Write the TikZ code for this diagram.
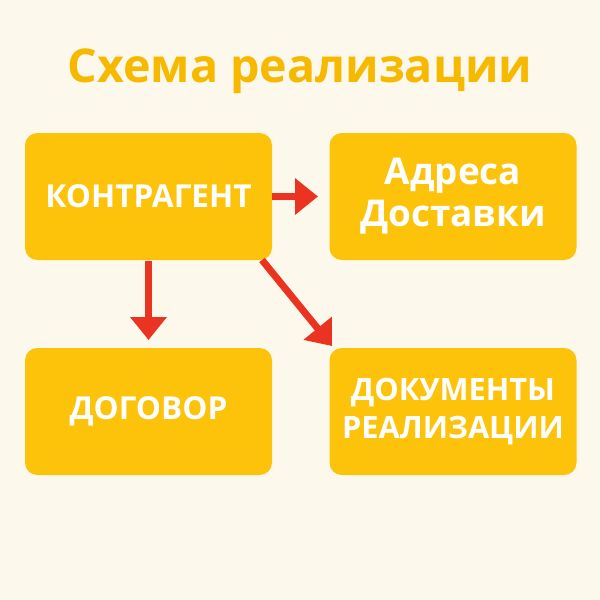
\documentclass[tikz,border=0pt]{standalone}
\usepackage{fontspec}
\setmainfont{Open Sans}
\usetikzlibrary{arrows.meta}
\definecolor{bgcream}{HTML}{FDF8EC}
\definecolor{boxamber}{HTML}{FDC20A}
\definecolor{titleamber}{HTML}{F7B900}
\definecolor{arrowred}{HTML}{EA3320}
\tikzset{
  box/.style={fill=boxamber, rounded corners=7pt, minimum width=4.94cm, minimum height=2.54cm,
    text=white, font=\bfseries, align=center},
  link/.style={draw=arrowred, line width=4pt, -{Triangle[length=13pt,width=20pt]}}
}
\begin{document}
\begin{tikzpicture}
    % Background
    \fill[bgcream] (0,0) rectangle (12,-12);
    \useasboundingbox (0,0) rectangle (12,-12);

    % Title
    \node[text=titleamber, font=\bfseries\fontsize{26.5}{32}\selectfont] (title) at (6,-1.42) {Схема реализации};

    % Boxes
    \node[box, font=\bfseries\fontsize{18}{21}\selectfont] (kontr) at (2.97,-3.93) {КОНТРАГЕНТ};
    \node[box, font=\bfseries\fontsize{21}{24}\selectfont] (adr) at (9.06,-3.93) {Адреса\\Доставки};
    \node[box, font=\bfseries\fontsize{18}{21}\selectfont] (dog) at (2.97,-8.23) {ДОГОВОР};
    \node[box, font=\bfseries\fontsize{17.5}{22}\selectfont] (docs) at (9.06,-8.23) {ДОКУМЕНТЫ\\РЕАЛИЗАЦИИ};

    % Arrows
    \coordinate (a1) at (6.36,-3.93);
    \coordinate (a2) at (2.97,-6.8);
    \coordinate (a3) at (6.64,-6.92);
    \draw[link] (kontr.east) -- (a1);
    \draw[link] (2.97,-5.22) -- (a2);
    \draw[link] (5.24,-5.2) -- (a3);
\end{tikzpicture}
\end{document}
